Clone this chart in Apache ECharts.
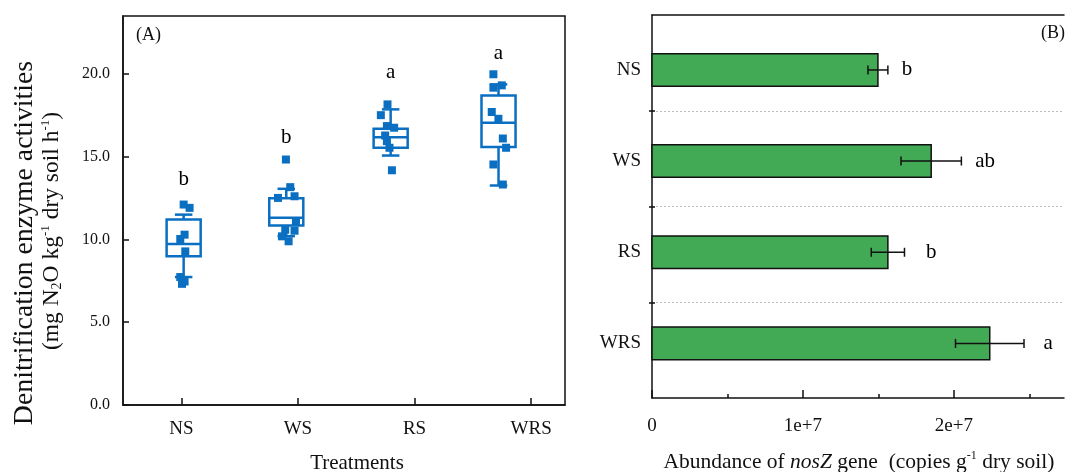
<!DOCTYPE html>
<html>
<head>
<meta charset="utf-8">
<script src="https://cdn.jsdelivr.net/npm/echarts@6/dist/echarts.min.js"></script>
<style>html,body{margin:0;padding:0;background:#fff}#c{width:1069px;height:472px}</style>
</head>
<body>
<div id="c"></div>
<script>
// ---------- DATA ----------
const categories = ['NS', 'WS', 'RS', 'WRS'];
// Panel A: box positions (x axis units, tick k = category k) and stats [low, Q1, median, Q3, high]
const boxPos = [1.02, 1.90, 2.795, 3.72];
const boxLow = [7.73, 10.2, 15.07, 13.26];
const boxQ1 = [8.98, 10.85, 15.54, 15.58];
const boxMed = [9.73, 11.31, 16.18, 17.05];
const boxQ3 = [11.20, 12.49, 16.69, 18.70];
const boxHigh = [11.50, 13.06, 17.86, 19.37];
// raw points
const ptsNSx = [1.020, 1.071, 1.028, 0.991, 1.034, 0.991, 1.028, 1.006];
const ptsNSy = [12.11, 11.91, 10.29, 10.03, 9.28, 7.73, 7.46, 7.32];
const ptsWSx = [1.897, 1.934, 1.829, 1.971, 1.983, 1.891, 1.971, 1.863, 1.920];
const ptsWSy = [14.83, 13.16, 12.51, 12.61, 11.06, 10.59, 10.53, 10.19, 9.89];
const ptsRSx = [2.768, 2.711, 2.763, 2.825, 2.748, 2.763, 2.785, 2.806];
const ptsRSy = [18.16, 17.51, 16.85, 16.75, 16.28, 15.94, 15.54, 14.18];
const ptsWRSx = [3.676, 3.676, 3.748, 3.662, 3.719, 3.757, 3.785, 3.676, 3.757];
const ptsWRSy = [19.98, 19.17, 19.31, 17.70, 17.29, 16.10, 15.54, 14.53, 13.32];
const lettersA = ['b', 'b', 'a', 'a'];
const lettersAy = [13.62, 16.18, 20.08, 21.23];
const yTicksA = [0, 5, 10, 15, 20];
// Panel B
const barPos = [0.574, 1.525, 2.478, 3.43];
const abundance = [1.497e7, 1.85e7, 1.563e7, 2.238e7];
const abundanceErr = [0.066e7, 0.20e7, 0.11e7, 0.227e7];
const lettersB = ['b', 'ab', 'b', 'a'];
const lettersBx = [1.689e7, 2.207e7, 1.85e7, 2.625e7];
const xTicksB = [0, 1e7, 2e7];
const xMinorB = [0.5e7, 1.5e7, 2.5e7];

// ---------- CHART ----------
const BLUE = '#0a6fc1';
const GREEN = '#42a954';
const FONT = '"Liberation Serif", "Times New Roman", serif';
const chart = echarts.init(document.getElementById('c'), null, {renderer: 'canvas'});

const boxData = boxPos.map((p, i) => [p, boxLow[i], boxQ1[i], boxMed[i], boxQ3[i], boxHigh[i]]);
const ptsData = []
  .concat(ptsNSx.map((x, i) => [x, ptsNSy[i]]))
  .concat(ptsWSx.map((x, i) => [x, ptsWSy[i]]))
  .concat(ptsRSx.map((x, i) => [x, ptsRSy[i]]))
  .concat(ptsWRSx.map((x, i) => [x, ptsWRSy[i]]));

function boxRender(params, api) {
  const x = api.value(0);
  const pLow = api.coord([x, api.value(1)]);
  const pQ1 = api.coord([x, api.value(2)]);
  const pMed = api.coord([x, api.value(3)]);
  const pQ3 = api.coord([x, api.value(4)]);
  const pHigh = api.coord([x, api.value(5)]);
  const hw = api.size([0.146, 0])[0];
  const cw = api.size([0.075, 0])[0];
  const st = {stroke: BLUE, lineWidth: 2.5, fill: null};
  const cx = pMed[0];
  return {
    type: 'group',
    children: [
      {type: 'line', shape: {x1: cx, y1: pQ3[1], x2: cx, y2: pHigh[1]}, style: st},
      {type: 'line', shape: {x1: cx, y1: pQ1[1], x2: cx, y2: pLow[1]}, style: st},
      {type: 'line', shape: {x1: cx - cw, y1: pHigh[1], x2: cx + cw, y2: pHigh[1]}, style: st},
      {type: 'line', shape: {x1: cx - cw, y1: pLow[1], x2: cx + cw, y2: pLow[1]}, style: st},
      {type: 'rect', shape: {x: cx - hw, y: pQ3[1], width: 2 * hw, height: pQ1[1] - pQ3[1]}, style: {stroke: BLUE, lineWidth: 2.5, fill: 'rgba(255,255,255,0)'}},
      {type: 'line', shape: {x1: cx - hw, y1: pMed[1], x2: cx + hw, y2: pMed[1]}, style: st}
    ]
  };
}

function makeTextRender(labels) {
  return function (params, api) {
    const p = api.coord([api.value(0), api.value(1)]);
    return {
      type: 'text',
      x: p[0], y: p[1],
      style: {text: labels[params.dataIndex], textAlign: 'center', textVerticalAlign: 'middle',
        font: '21px ' + FONT, fill: '#000'}
    };
  };
}

function barRender(params, api) {
  const v = api.value(0), y = api.value(1);
  const p0 = api.coord([0, y]);
  const p1 = api.coord([v, y]);
  const h = api.size([0, 0.341])[1];
  return {
    type: 'rect',
    shape: {x: p0[0], y: p0[1] - h / 2, width: p1[0] - p0[0], height: h},
    style: {fill: GREEN, stroke: '#111', lineWidth: 1.5}
  };
}

function errRender(params, api) {
  const v = api.value(0), y = api.value(1), e = api.value(2);
  const a = api.coord([v - e, y]);
  const b = api.coord([v + e, y]);
  const st = {stroke: '#111', lineWidth: 1.5};
  return {
    type: 'group',
    children: [
      {type: 'line', shape: {x1: a[0], y1: a[1], x2: b[0], y2: b[1]}, style: st},
      {type: 'line', shape: {x1: a[0], y1: a[1] - 4.5, x2: a[0], y2: a[1] + 4.5}, style: st},
      {type: 'line', shape: {x1: b[0], y1: b[1] - 4.5, x2: b[0], y2: b[1] + 4.5}, style: st}
    ]
  };
}

const axisLineBlack = {show: true, onZero: false, lineStyle: {color: '#111', width: 1.5}};

const option = {
  animation: false,
  backgroundColor: '#fff',
  textStyle: {fontFamily: FONT},
  grid: [
    {left: 123, top: 16, right: 504, bottom: 67, show: true, borderColor: '#111', borderWidth: 1.5, backgroundColor: 'transparent'},
    {left: 652, top: 15, right: 5, bottom: 74}
  ],
  xAxis: [
    {gridIndex: 0, type: 'value', min: 0.5, max: 4.29, position: 'bottom',
      axisLine: axisLineBlack,
      axisTick: {show: true, inside: true, length: 7, customValues: [1, 2, 3, 4], lineStyle: {color: '#111', width: 1.5}},
      axisLabel: {show: true, customValues: [1, 2, 3, 4], formatter: v => categories[Math.round(v) - 1],
        fontSize: 19, color: '#111', fontFamily: FONT, margin: 15},
      splitLine: {show: false}},
    {gridIndex: 1, type: 'value', min: 0, max: 2.73e7, position: 'bottom',
      axisLine: axisLineBlack,
      axisTick: {show: true, inside: true, length: 8, customValues: xTicksB, lineStyle: {color: '#111', width: 1.5}},
      axisLabel: {show: true, customValues: xTicksB, formatter: v => v === 0 ? '0' : (v / 1e7) + 'e+7',
        fontSize: 19, color: '#111', fontFamily: FONT, margin: 19},
      splitLine: {show: false}},
    {gridIndex: 1, type: 'value', min: 0, max: 2.73e7, position: 'bottom',
      axisLine: {show: false, onZero: false},
      axisTick: {show: true, inside: true, length: 4, customValues: xMinorB, lineStyle: {color: '#111', width: 1.5}},
      axisLabel: {show: false}, splitLine: {show: false}},
    {gridIndex: 1, type: 'value', min: 0, max: 2.73e7, position: 'top',
      axisLine: axisLineBlack, axisTick: {show: false}, axisLabel: {show: false}, splitLine: {show: false}}
  ],
  yAxis: [
    {gridIndex: 0, type: 'value', min: 0, max: 23.5,
      axisLine: axisLineBlack,
      axisTick: {show: true, inside: true, length: 6, customValues: yTicksA, lineStyle: {color: '#111', width: 1.5}},
      axisLabel: {show: true, customValues: yTicksA, formatter: v => v.toFixed(1), fontSize: 16, color: '#111',
        fontFamily: FONT, margin: 13},
      splitLine: {show: false}},
    {gridIndex: 1, type: 'value', inverse: true, min: 0, max: 4, interval: 1, position: 'left',
      axisLine: axisLineBlack,
      axisTick: {show: true, inside: true, length: 3, customValues: [1, 2, 3], lineStyle: {color: '#111', width: 1.5}},
      axisLabel: {show: true, customValues: barPos, formatter: v => categories[barPos.indexOf(v)],
        fontSize: 19, color: '#111', fontFamily: FONT, margin: 11},
      splitLine: {show: true, lineStyle: {color: '#bbb', type: [2, 2], width: 1}}},
    {gridIndex: 1, type: 'value', inverse: true, min: 0, max: 4, interval: 1, position: 'left',
      axisLine: {show: false, onZero: false},
      axisTick: {show: true, inside: false, length: 3, customValues: [1, 2, 3], lineStyle: {color: '#111', width: 1.5}},
      axisLabel: {show: false}, splitLine: {show: false}}
  ],
  series: [
    {type: 'custom', xAxisIndex: 0, yAxisIndex: 0, renderItem: boxRender, data: boxData, z: 2},
    {type: 'scatter', xAxisIndex: 0, yAxisIndex: 0, symbol: 'rect', symbolSize: 8,
      itemStyle: {color: BLUE, opacity: 1}, data: ptsData, z: 3},
    {type: 'custom', xAxisIndex: 0, yAxisIndex: 0, renderItem: makeTextRender(lettersA),
      data: boxPos.map((p, i) => [p, lettersAy[i]]), z: 4},
    {type: 'custom', xAxisIndex: 1, yAxisIndex: 1, renderItem: barRender,
      data: abundance.map((v, i) => [v, barPos[i]]), z: 2},
    {type: 'custom', xAxisIndex: 1, yAxisIndex: 1, renderItem: errRender,
      data: abundance.map((v, i) => [v, barPos[i], abundanceErr[i]]), z: 3},
    {type: 'custom', xAxisIndex: 1, yAxisIndex: 1, renderItem: makeTextRender(lettersB),
      data: lettersBx.map((x, i) => [x, barPos[i]]), z: 4}
  ],
  graphic: [
    {type: 'text', left: 136, top: 26, style: {text: '(A)', font: '18px ' + FONT, fill: '#111'}},
    {type: 'text', left: 1041, top: 24, style: {text: '(B)', font: '18px ' + FONT, fill: '#111'}},
    {type: 'text', x: 357, y: 463, style: {text: 'Treatments', font: '21px ' + FONT, fill: '#111',
      textAlign: 'center', textVerticalAlign: 'middle'}},
    {type: 'text', x: 859, y: 462, style: {
      text: '{n|Abundance of }{i|nosZ}{n| gene  (copies g}{p|-1}{n| dry soil)}',
      textAlign: 'center', textVerticalAlign: 'middle',
      rich: {
        n: {font: '21.5px ' + FONT, fill: '#111', lineHeight: 24},
        i: {font: 'italic 21.5px ' + FONT, fill: '#111', lineHeight: 24},
        p: {font: '12px ' + FONT, fill: '#111', lineHeight: 16, verticalAlign: 'top'}
      }}},
    {type: 'text', x: 25, y: 243, rotation: Math.PI / 2, style: {
      text: 'Denitrification enzyme activities', font: '27.8px ' + FONT, fill: '#111',
      textAlign: 'center', textVerticalAlign: 'middle'}},
    {type: 'text', x: 52, y: 231, rotation: Math.PI / 2, style: {
      text: '{n|(mg N}{s|2}{n|O kg}{p|-1}{n| dry soil h}{p|-1}{n|)}',
      textAlign: 'center', textVerticalAlign: 'middle',
      rich: {
        n: {font: '23.5px ' + FONT, fill: '#111', lineHeight: 25},
        s: {font: '14px ' + FONT, fill: '#111', lineHeight: 15, verticalAlign: 'bottom'},
        p: {font: '13px ' + FONT, fill: '#111', lineHeight: 15, verticalAlign: 'top'}
      }}}
  ]
};
chart.setOption(option);
</script>
</body>
</html>
